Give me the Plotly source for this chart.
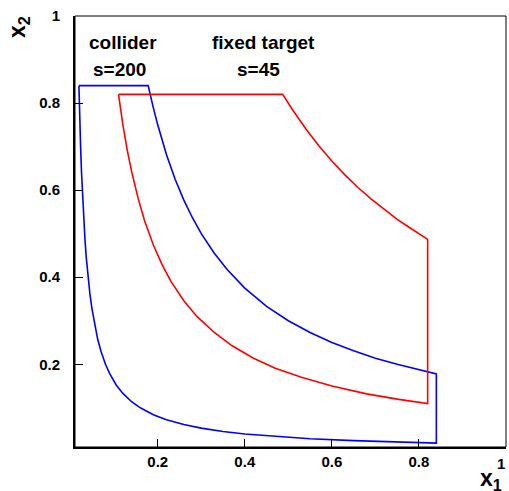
import plotly.graph_objects as go

# Collider (blue) region boundary
blue_x1 = [0.019, 0.178,
           0.19, 0.20, 0.22, 0.24, 0.26, 0.28, 0.30, 0.33, 0.36, 0.40, 0.45, 0.50, 0.55, 0.60,
           0.65, 0.70, 0.75, 0.80, 0.84,
           0.84,
           0.75, 0.65, 0.55, 0.45, 0.40, 0.35, 0.30, 0.26, 0.22, 0.19, 0.16, 0.14, 0.12, 0.105,
           0.09, 0.08, 0.07, 0.062, 0.055, 0.049, 0.044, 0.040, 0.036, 0.033, 0.030, 0.027,
           0.025, 0.023, 0.021, 0.020, 0.019]
blue_x2 = [0.84, 0.84,
           0.789, 0.75, 0.682, 0.625, 0.577, 0.536, 0.50, 0.455, 0.417, 0.375, 0.333, 0.30, 0.273, 0.25,
           0.231, 0.214, 0.20, 0.1875, 0.178,
           0.019,
           0.0213, 0.0246, 0.029, 0.0356, 0.040, 0.0457, 0.0533, 0.0615, 0.0727, 0.0842, 0.10, 0.114,
           0.133, 0.152, 0.178, 0.20, 0.229, 0.258, 0.291, 0.327, 0.364, 0.40, 0.444, 0.485, 0.533,
           0.593, 0.64, 0.696, 0.762, 0.80, 0.84]

# Fixed-target (red) region boundary
red_x1 = [0.11, 0.487,
          0.51, 0.54, 0.57, 0.60, 0.63, 0.66, 0.69, 0.72, 0.75, 0.78, 0.80, 0.82,
          0.82,
          0.75, 0.68, 0.60, 0.53, 0.47, 0.42, 0.37, 0.33, 0.29, 0.26, 0.23, 0.21, 0.19, 0.17,
          0.155, 0.14, 0.13, 0.12, 0.115, 0.11]
red_x2 = [0.82, 0.82,
          0.784, 0.741, 0.702, 0.667, 0.635, 0.606, 0.58, 0.556, 0.533, 0.513, 0.50, 0.487,
          0.11,
          0.12, 0.132, 0.15, 0.17, 0.191, 0.214, 0.243, 0.273, 0.31, 0.346, 0.391, 0.429, 0.474,
          0.529, 0.581, 0.643, 0.692, 0.75, 0.783, 0.82]

tick_vals = [0.2, 0.4, 0.6, 0.8, 1.0]
tick_text = ["0.2", "0.4", "0.6", "0.8", "1"]

fig = go.Figure()
fig.add_trace(go.Scatter(x=blue_x1, y=blue_x2, mode="lines",
                         line=dict(color="#0000ff", width=1.6), showlegend=False))
fig.add_trace(go.Scatter(x=red_x1, y=red_x2, mode="lines",
                         line=dict(color="#ff0000", width=1.6), showlegend=False))

W, H = 509, 491
L, R, T, B = 75, 3, 16, 44
pw, ph = W - L - R, H - T - B

def px(x):
    return (x - L) / pw

def py(y):
    return (H - B - y) / ph

bold = "Liberation Sans, Arial, sans-serif"
font_tick = dict(family=bold, size=15, color="black", weight="bold")
axis_common = dict(range=[0.01, 1.0], tickvals=tick_vals,
                   ticks="inside", ticklen=8, tickwidth=1.2, tickcolor="black",
                   showline=True, linecolor="black", linewidth=2, mirror=False,
                   showgrid=False, zeroline=False, tickfont=font_tick)

# the last x label sits shifted left of its tick (drawn separately below)
x_tick_text = tick_text[:-1] + [""]

fig.update_layout(
    width=W, height=H,
    margin=dict(l=L, r=R, t=T, b=B, pad=0),
    paper_bgcolor="white", plot_bgcolor="white",
    xaxis=dict(**axis_common, ticktext=x_tick_text, ticklabelstandoff=0),
    yaxis=dict(**axis_common, ticktext=tick_text, ticklabelstandoff=10),
    font=dict(family=bold),
)

fig.add_annotation(text=tick_text[-1], xref="paper", yref="paper", x=px(500.5), y=py(463),
                   xanchor="center", yanchor="middle", showarrow=False, font=font_tick)

# thin frame on top/right
fig.add_shape(type="rect", xref="paper", yref="paper", x0=0, y0=0, x1=1, y1=1,
              line=dict(color="black", width=1), layer="above")

texts = [("<b>collider</b>", 122.5, 43), ("<b>s=200</b>", 119.5, 69),
         ("<b>fixed target</b>", 263, 43), ("<b>s=45</b>", 258.5, 69)]
for t, x, y in texts:
    fig.add_annotation(text=t, xref="paper", yref="paper", x=px(x), y=py(y),
                       xanchor="center", yanchor="middle", showarrow=False,
                       font=dict(family=bold, size=19, color="black"))

# axis titles
fig.add_annotation(text="<b>x<sub>1</sub></b>", xref="paper", yref="paper",
                   x=px(491), y=py(479), xanchor="center", yanchor="middle",
                   showarrow=False, font=dict(family=bold, size=23, color="black"))
fig.add_annotation(text="<b>x<sub>2</sub></b>", xref="paper", yref="paper",
                   x=px(19), y=py(27), xanchor="center", yanchor="middle", textangle=-90,
                   showarrow=False, font=dict(family=bold, size=23, color="black"))

fig.write_html("out.html", config={"displayModeBar": False},
               post_script="document.body.style.margin='0';document.body.style.padding='0';")
